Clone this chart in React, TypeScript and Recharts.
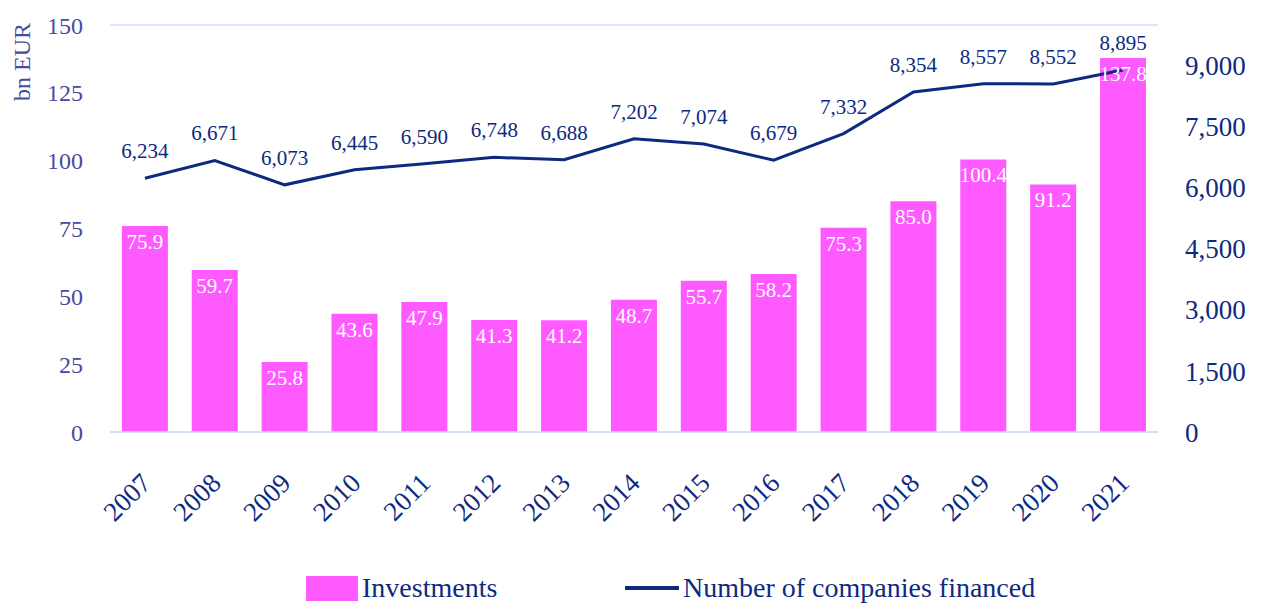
import {
  ComposedChart,
  Bar,
  Line,
  XAxis,
  YAxis,
  CartesianGrid,
  Legend,
  LabelList,
} from "recharts";

const years = ["2007", "2008", "2009", "2010", "2011", "2012", "2013", "2014", "2015", "2016", "2017", "2018", "2019", "2020", "2021"];
const investments = [75.9, 59.7, 25.8, 43.6, 47.9, 41.3, 41.2, 48.7, 55.7, 58.2, 75.3, 85.0, 100.4, 91.2, 137.8];
const companies = [6234, 6671, 6073, 6445, 6590, 6748, 6688, 7202, 7074, 6679, 7332, 8354, 8557, 8552, 8895];
const leftTicks = [0, 25, 50, 75, 100, 125, 150];
const rightTicks = [0, 1500, 3000, 4500, 6000, 7500, 9000];

const FONT = "'Liberation Serif', 'DejaVu Serif', serif";
const NAVY = "#0d2a80";
const AXIS_PURPLE = "#4a4aa0";
const PINK = "#ff5aff";
const GRID = "#d3ddf7";

const data = years.map((year, i) => ({
  year,
  investments: investments[i],
  companies: companies[i],
}));

const fmtThousands = (v: number) => v.toLocaleString("en-US");

const YearTick = ({ x, y, payload }: any) => (
  <g transform={`translate(${x + 2},${y + 39}) rotate(-45)`}>
    <text textAnchor="end" fill={NAVY} fontSize={27} fontFamily={FONT} dy={8}>
      {payload.value}
    </text>
  </g>
);

const LegendContent = () => (
  <div style={{ display: "flex", alignItems: "center", fontFamily: FONT, fontSize: 28, color: NAVY, height: 30, whiteSpace: "nowrap" }}>
    <div style={{ width: 306 }} />
    <div style={{ width: 319, display: "flex", alignItems: "center" }}>
      <span style={{ display: "inline-block", width: 52, height: 25, background: PINK, marginRight: 4 }} />
      <span>Investments</span>
    </div>
    <div style={{ display: "flex", alignItems: "center" }}>
      <span style={{ display: "inline-block", width: 54, height: 4, background: NAVY, marginRight: 4 }} />
      <span>Number of companies financed</span>
    </div>
  </div>
);

const UnitLabel = ({ viewBox }: any) => {
  const vb = viewBox || { x: 0, y: 25 };
  const cx = 22;
  const cy = vb.y + 37;
  return (
    <text
      x={cx}
      y={cy}
      transform={`rotate(-90, ${cx}, ${cy})`}
      textAnchor="middle"
      dominantBaseline="central"
      fill={AXIS_PURPLE}
      fontSize={24}
      fontFamily={FONT}
    >
      bn EUR
    </text>
  );
};

export default function App() {
  return (
    <div style={{ position: "absolute", left: 0, top: 0, width: 1262, height: 604, background: "#fff" }}>
      <ComposedChart
        width={1262}
        height={604}
        data={data}
        margin={{ top: 25, right: 0, left: 0, bottom: 0 }}
        barCategoryGap="17%"
      >
        <CartesianGrid vertical={false} stroke={GRID} strokeWidth={1.5} />
        <XAxis
          dataKey="year"
          tick={<YearTick />}
          tickLine={false}
          axisLine={{ stroke: GRID, strokeWidth: 1.5 }}
          height={140}
          interval={0}
        />
        <YAxis
          yAxisId="left"
          domain={[0, 150]}
          ticks={leftTicks}
          width={110}
          tickSize={0}
          tickMargin={27}
          axisLine={false}
          tickLine={false}
          tick={{ fill: AXIS_PURPLE, fontSize: 24, fontFamily: FONT }}
          label={<UnitLabel />}
        />
        <YAxis
          yAxisId="right"
          orientation="right"
          domain={[0, 10000]}
          ticks={rightTicks}
          width={104}
          tickSize={0}
          tickMargin={27}
          axisLine={false}
          tickLine={false}
          tickFormatter={fmtThousands}
          tick={{ fill: NAVY, fontSize: 27, fontFamily: FONT, textAnchor: "start" }}
        />
        <Legend
          verticalAlign="bottom"
          align="left"
          content={<LegendContent />}
          wrapperStyle={{ height: 32, left: 0, width: 1262, bottom: -1 }}
        />
        <Bar yAxisId="left" dataKey="investments" name="Investments" fill={PINK} isAnimationActive={false}>
          <LabelList
            dataKey="investments"
            position="insideTop"
            offset={8}
            formatter={(v: any) => Number(v).toFixed(1)}
            fill="#ffffff"
            fontSize={21}
            fontFamily={FONT}
          />
        </Bar>
        <Line
          yAxisId="right"
          dataKey="companies"
          name="Number of companies financed"
          stroke={NAVY}
          strokeWidth={3}
          dot={false}
          isAnimationActive={false}
        >
          <LabelList
            dataKey="companies"
            position="top"
            offset={20}
            formatter={(v: any) => fmtThousands(Number(v))}
            fill={NAVY}
            fontSize={21}
            fontFamily={FONT}
          />
        </Line>
      </ComposedChart>
    </div>
  );
}
